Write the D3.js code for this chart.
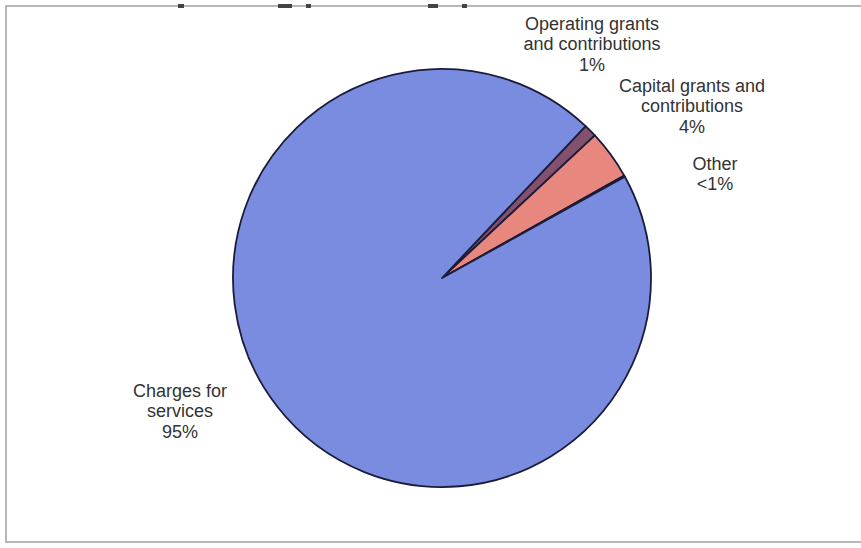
<!DOCTYPE html>
<html><head><meta charset="utf-8">
<script src="https://cdn.jsdelivr.net/npm/d3@7"></script>
<style>html,body{margin:0;padding:0;background:#fff;}svg{display:block;}</style>
</head><body>
<script>
const categories = ["Operating grants and contributions", "Capital grants and contributions", "Other", "Charges for services"];
const values = [1.0, 3.8, 0.1, 95.1];
const labelLines = [
  ["Operating grants", "and contributions", "1%"],
  ["Capital grants and", "contributions", "4%"],
  ["Other", "<1%"],
  ["Charges for", "services", "95%"]
];
const colors = ["#83506e", "#e8877d", "#7d5a8a", "#7a8ce0"];

const W = 861, H = 548;
const svg = d3.select("body").append("svg").attr("width", W).attr("height", H);

// frame
svg.append("rect").attr("x", 6).attr("y", 6).attr("width", W + 10).attr("height", 536)
  .attr("fill", "none").attr("stroke", "#a0a0a0").attr("stroke-width", 1.5);
// scan marks at top
[[178, 6], [278, 14], [306, 5], [428, 10], [462, 5]].forEach(([x, w]) => {
  svg.append("rect").attr("x", x).attr("y", 4).attr("width", w).attr("height", 4).attr("fill", "#444");
});

const cx = 442, cy = 278, r = 209;
const startDeg = 43.4;
const pie = d3.pie().sort(null).value(d => d)
  .startAngle(startDeg * Math.PI / 180).endAngle((startDeg + 360) * Math.PI / 180);
const arc = d3.arc().innerRadius(0).outerRadius(r);
const g = svg.append("g").attr("transform", `translate(${cx},${cy})`);
g.selectAll("path").data(pie(values)).join("path")
  .attr("d", arc).attr("fill", (d, i) => colors[i])
  .attr("stroke", "#1b1b3a").attr("stroke-width", 1.8).attr("stroke-linejoin", "round");

const labelPos = [[592, 25], [692, 87], [715, 165], [180, 392]];
const lh = 20.5;
labelLines.forEach((lines, i) => {
  const t = svg.append("text").attr("text-anchor", "middle")
    .attr("font-family", "Liberation Sans, Arial, sans-serif").attr("font-size", 18)
    .attr("fill", "#333");
  lines.forEach((ln, j) => {
    t.append("tspan").attr("x", labelPos[i][0]).attr("y", labelPos[i][1] + j * lh)
      .attr("dominant-baseline", "middle").text(ln);
  });
});
</script>
</body></html>
